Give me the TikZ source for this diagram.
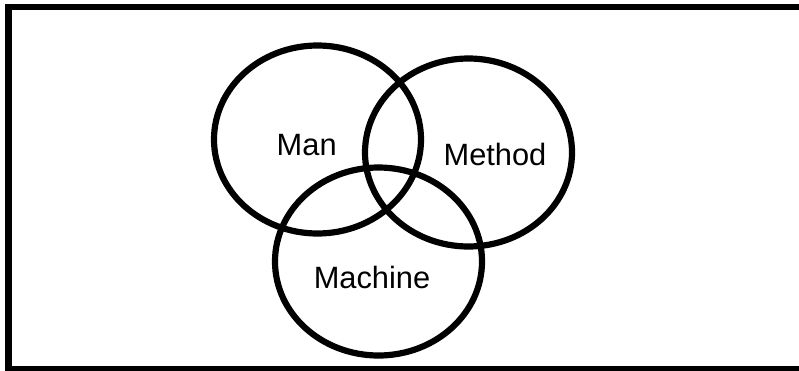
\documentclass[tikz,border=0pt]{standalone}
\usepackage{fontspec}
\setmainfont{Liberation Sans}
\usetikzlibrary{shapes.geometric}
\begin{document}
\begin{tikzpicture}[x=1pt,y=-1pt,
  setring/.style={draw=black,ellipse,line width=6.2pt,minimum width=207pt,minimum height=188pt,inner sep=0pt},
  setlabel/.style={anchor=base,inner sep=0pt,font=\fontsize{30.8}{36}\selectfont},
  frameline/.style={draw=black,line width=6.5pt}]
\useasboundingbox (0,0) rectangle (799,370);
\clip (0,0) rectangle (799,370);
\fill[white] (0,0) rectangle (799,370);
\draw[frameline] (8.5,7) rectangle (820,369.5);
\node[setring] (man) at (317.5,139.5) {};
\node[setring] (method) at (468.5,152.5) {};
\node[setring] (machine) at (378.5,261.5) {};
\node[setlabel] (manlbl) at (306.7,155) {Man};
\node[setlabel] (methodlbl) at (495,165.5) {Method};
\node[setlabel] (machinelbl) at (372,288.3) {Machine};
\end{tikzpicture}
\end{document}
